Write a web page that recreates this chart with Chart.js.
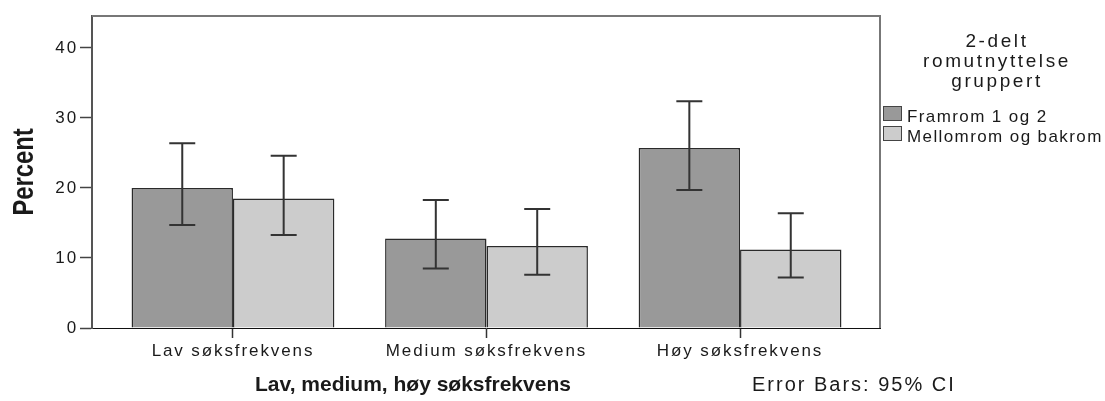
<!DOCTYPE html>
<html>
<head>
<meta charset="utf-8">
<script src="https://cdn.jsdelivr.net/npm/chart.js@4/dist/chart.umd.min.js"></script>
<style>
  html, body { margin: 0; padding: 0; background: #fff; }
  #wrap { width: 1105px; height: 401px; position: relative; }
</style>
</head>
<body>
<div id="wrap"><canvas id="chart"></canvas></div>
<script>
const categories = ['Lav søksfrekvens', 'Medium søksfrekvens', 'Høy søksfrekvens'];
const seriesLabels = ['Framrom 1 og 2', 'Mellomrom og bakrom'];
const framrom = [20.0, 12.8, 25.7];
const framromLo = [14.7, 8.5, 19.7];
const framromHi = [26.4, 18.3, 32.4];
const mellomrom = [18.5, 11.7, 11.2];
const mellomromLo = [13.3, 7.6, 7.2];
const mellomromHi = [24.6, 17.0, 16.4];
const yTicks = [0, 10, 20, 30, 40];
const legendTitle = ['2-delt', 'romutnyttelse', 'gruppert'];
const xTitle = 'Lav, medium, høy søksfrekvens';
const yTitle = 'Percent';
const footNote = 'Error Bars: 95% CI';

const colors = ['#999999', '#cccccc'];
const ciLo = [framromLo, mellomromLo];
const ciHi = [framromHi, mellomromHi];
const FONT = "'Liberation Sans', Arial, sans-serif";

// letter spacing for the library drawn tick labels
const spacing = {
  id: 'spacing',
  beforeDraw(chart) { chart.ctx.letterSpacing = '1.9px'; },
  afterDraw(chart) { chart.ctx.letterSpacing = '0px'; }
};

const errorBars = {
  id: 'errorBars',
  afterDatasetsDraw(chart) {
    const ctx = chart.ctx;
    const y = chart.scales.y;
    ctx.save();
    ctx.strokeStyle = '#333';
    ctx.lineWidth = 2;
    chart.data.datasets.forEach((ds, i) => {
      chart.getDatasetMeta(i).data.forEach((bar, j) => {
        const top = y.getPixelForValue(ciHi[i][j]);
        const bot = y.getPixelForValue(ciLo[i][j]);
        ctx.beginPath();
        ctx.moveTo(bar.x, top); ctx.lineTo(bar.x, bot);
        ctx.moveTo(bar.x - 13, top); ctx.lineTo(bar.x + 13, top);
        ctx.moveTo(bar.x - 13, bot); ctx.lineTo(bar.x + 13, bot);
        ctx.stroke();
      });
    });
    ctx.restore();
  }
};

const decorations = {
  id: 'decorations',
  afterDraw(chart) {
    const ctx = chart.ctx;
    const a = chart.chartArea;
    ctx.save();
    // top and right frame
    ctx.strokeStyle = '#777';
    ctx.lineWidth = 2;
    ctx.beginPath();
    ctx.moveTo(a.left, a.top); ctx.lineTo(a.right, a.top); ctx.lineTo(a.right, a.bottom);
    ctx.stroke();

    ctx.fillStyle = '#1a1a1a';
    // y title, narrow bold
    ctx.save();
    ctx.translate(33, (a.top + a.bottom) / 2);
    ctx.rotate(-Math.PI / 2);
    ctx.scale(0.82, 1);
    ctx.font = 'bold 29px ' + FONT;
    ctx.textAlign = 'center';
    ctx.textBaseline = 'alphabetic';
    ctx.fillText(yTitle, 0, 0);
    ctx.restore();

    // x title and note
    ctx.textBaseline = 'alphabetic';
    ctx.textAlign = 'left';
    ctx.letterSpacing = '0px';
    ctx.font = 'bold 21px ' + FONT;
    ctx.fillText(xTitle, 255, 391);
    ctx.letterSpacing = '2px';
    ctx.font = '20px ' + FONT;
    ctx.fillText(footNote, 752, 391);

    // legend
    ctx.textAlign = 'center';
    ctx.letterSpacing = '2.6px';
    ctx.font = '19px ' + FONT;
    legendTitle.forEach((t, i) => ctx.fillText(t, 997, 47 + i * 20));
    ctx.textAlign = 'left';
    ctx.letterSpacing = '1.4px';
    ctx.font = '17px ' + FONT;
    chart.data.datasets.forEach((ds, i) => {
      const by = 106 + i * 20;
      ctx.fillStyle = ds.backgroundColor;
      ctx.fillRect(883, by, 19, 15);
      ctx.strokeStyle = '#444';
      ctx.lineWidth = 1;
      ctx.strokeRect(883.5, by + 0.5, 18, 14);
      ctx.fillStyle = '#1a1a1a';
      ctx.fillText(ds.label, 907, by + 16);
    });
    ctx.restore();
  }
};

new Chart(document.getElementById('chart'), {
  type: 'bar',
  data: {
    datasets: [
      {
        label: seriesLabels[0],
        data: framrom.map((v, i) => ({ x: i, y: v })),
        backgroundColor: colors[0],
        borderColor: '#2a2a2a',
        borderWidth: 1.5
      },
      {
        label: seriesLabels[1],
        data: mellomrom.map((v, i) => ({ x: i, y: v })),
        backgroundColor: colors[1],
        borderColor: '#2a2a2a',
        borderWidth: 1.5
      }
    ]
  },
  options: {
    responsive: true,
    maintainAspectRatio: false,
    animation: false,
    categoryPercentage: 0.8,
    barPercentage: 1,
    layout: { padding: { left: 0, right: 225, top: 16, bottom: 0 } },
    plugins: {
      legend: { display: false },
      tooltip: { enabled: false }
    },
    scales: {
      x: {
        type: 'linear',
        offset: false,
        min: -0.556,
        max: 2.552,
        afterBuildTicks: s => { s.ticks = categories.map((c, i) => ({ value: i })); },
        afterFit: s => { s.height = 73; },
        ticks: {
          callback: v => categories[v],
          color: '#1a1a1a',
          font: { family: FONT, size: 17 },
          padding: 3,
          maxRotation: 0,
          autoSkip: false
        },
        grid: { offset: false, drawOnChartArea: false, drawTicks: true, tickLength: 10, tickColor: '#333', tickWidth: 1.5 },
        border: { display: true, color: '#111', width: 1 }
      },
      y: {
        min: 0,
        max: 44.57,
        afterBuildTicks: s => { s.ticks = yTicks.map(v => ({ value: v })); },
        afterFit: s => { s.width = 92; },
        ticks: {
          color: '#1a1a1a',
          font: { family: FONT, size: 17 },
          padding: 2
        },
        grid: { drawOnChartArea: false, drawTicks: true, tickLength: 12, tickColor: '#444', tickWidth: 1.5 },
        border: { display: true, color: '#555', width: 2 }
      }
    }
  },
  plugins: [spacing, errorBars, decorations]
});
</script>
</body>
</html>
